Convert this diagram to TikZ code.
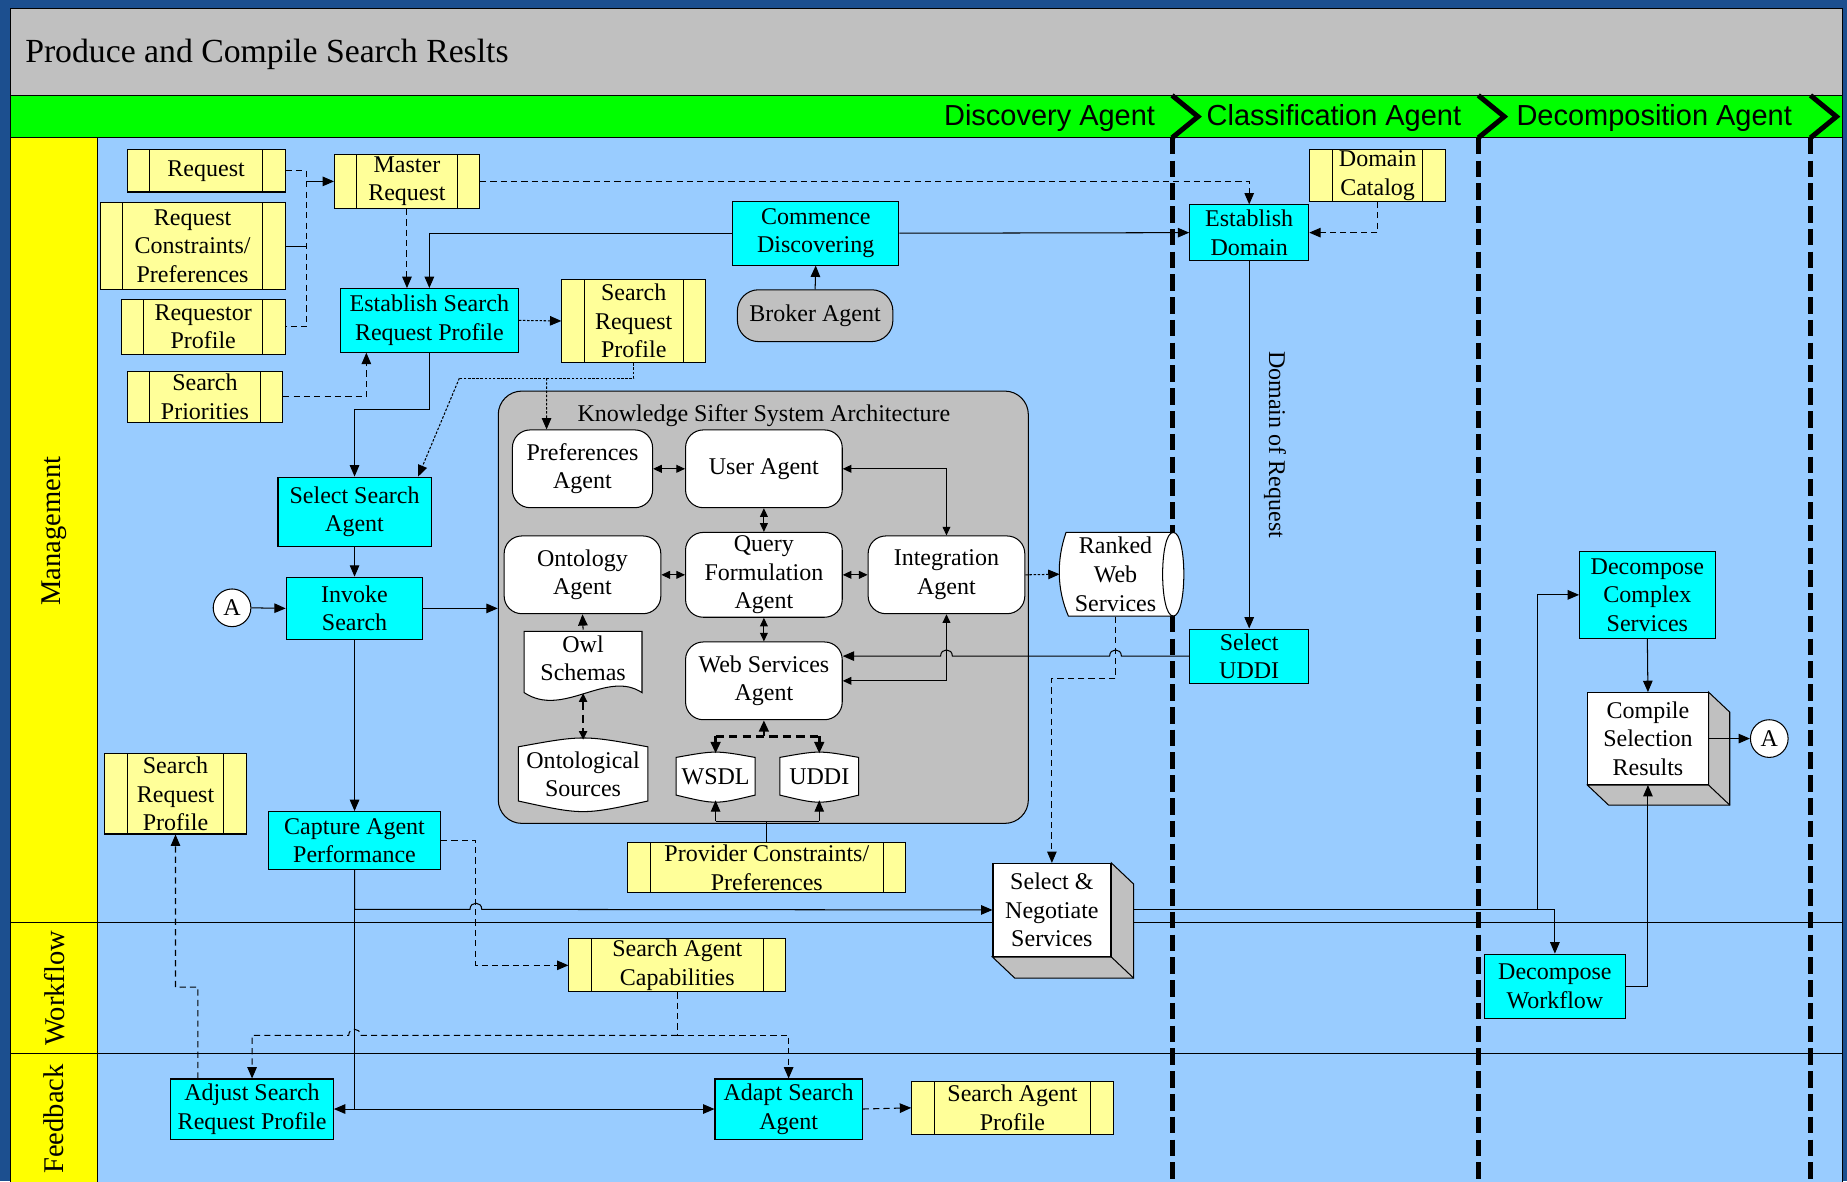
\documentclass[tikz,border=0pt]{standalone}
\usepackage{fontspec}
\setmainfont{Liberation Serif}
\setsansfont{Liberation Sans}
\usetikzlibrary{arrows.meta,calc}

\definecolor{frameblue}{HTML}{1C4F8F}
\definecolor{titlegray}{HTML}{C0C0C0}
\definecolor{hdrgreen}{HTML}{00FF00}
\definecolor{laneblue}{HTML}{99CCFF}
\definecolor{laneyel}{HTML}{FFFF00}
\definecolor{taskcyan}{HTML}{00FFFF}
\definecolor{datayel}{HTML}{FFFF99}

\newcommand\boxfont{\fontsize{11.6}{13.8}\selectfont}

\tikzset{
  wh/.style 2 args={minimum width=#1*0.02cm,minimum height=#2*0.02cm},
  txt/.style={inner sep=0pt,align=center,font=\boxfont},
  task/.style={txt,draw,fill=taskcyan},
  agent/.style={txt,draw,fill=white,rounded corners=0.3cm},
  datbox/.style={txt,draw,fill=datayel,
    path picture={
      \draw ([xshift=0.38cm]path picture bounding box.north west) -- ([xshift=0.38cm]path picture bounding box.south west);
      \draw ([xshift=-0.38cm]path picture bounding box.north east) -- ([xshift=-0.38cm]path picture bounding box.south east);}},
  conn/.style={txt,circle,draw,fill=white,minimum size=0.64cm},
  arr/.style={-{Triangle[length=5.5pt,width=4.6pt]}},
  darr/.style={{Triangle[length=4.2pt,width=3.8pt]}-{Triangle[length=4.2pt,width=3.8pt]}},
  dsh/.style={dash pattern=on 3pt off 2pt},
  fine/.style={dash pattern=on 1.2pt off 0.8pt},
  tdsh/.style={line width=1.3pt,dash pattern=on 4pt off 2.5pt},
  phase/.style={line width=2.4pt,dash pattern=on 8pt off 3pt},
  chev/.style={line width=2.4pt},
}

\begin{document}
\begin{tikzpicture}[x=0.02cm,y=-0.02cm,line width=0.5pt]
\useasboundingbox (0,0) rectangle (1568,1003);
% frame and lanes
\fill[frameblue] (0,0) rectangle (1568,1003);
\fill[laneblue] (9,7) rectangle (1564,1010);
\fill[titlegray] (9,7) rectangle (1564,81);
\draw[fill=hdrgreen] (9,81) rectangle (1564,117);
\draw[fill=laneyel] (9,117) rectangle (83,1010);
\draw (9,783) -- (1564,783);
\draw (9,894) -- (1564,894);
\draw (9,7) rectangle (1564,1010);
\node[anchor=west,inner sep=0pt,font=\fontsize{16.3}{19}\selectfont] (ttl) at (21,46.5) {Produce and Compile Search Reslts};
\node[rotate=90,inner sep=0pt,font=\fontsize{13.8}{16}\selectfont] (lnm) at (46,451) {Management};
\node[rotate=90,inner sep=0pt,font=\fontsize{13.8}{16}\selectfont] (lnw) at (46,839) {Workflow};
\node[rotate=90,inner sep=0pt,font=\fontsize{13.8}{16}\selectfont] (lnf) at (46,950) {Feedback};

% phases
\node[anchor=east,inner sep=0pt,font=\sffamily\fontsize{14}{16}\selectfont] (hdisc) at (981,100.5) {Discovery Agent};
\node[anchor=west,inner sep=0pt,font=\sffamily\fontsize{14}{16}\selectfont] (hclass) at (1024,100.5) {Classification Agent};
\node[anchor=west,inner sep=0pt,font=\sffamily\fontsize{14}{16}\selectfont] (hdec) at (1287,100.5) {Decomposition Agent};
\draw[chev] (995,81) -- (1017,99) -- (995,117);
\draw[chev] (1255,81) -- (1277,99) -- (1255,117);
\draw[chev] (1537,81) -- (1559,99) -- (1537,117);
\draw[phase] (995,117) -- (995,1003);
\draw[phase] (1255,117) -- (1255,1003);
\draw[phase] (1537,117) -- (1537,1003);

% request side
\node[datbox,wh={134}{36}] (req) at (175,145) {Request};
\node[datbox,wh={123}{46}] (mr) at (345.5,154) {Master\\Request};
\node[datbox,wh={157}{74}] (rc) at (163.5,209) {Request\\Constraints/\\Preferences};
\node[datbox,wh={139}{47}] (rp) at (172.5,277.5) {Requestor\\Profile};
\node[datbox,wh={132}{44}] (sp) at (174,337) {Search\\Priorities};
\node[task,wh={151}{54}] (esrp) at (364.5,272) {Establish Search\\Request Profile};
\node[datbox,wh={122}{71}] (srp) at (538,272.5) {Search\\Request\\Profile};
\node[task,wh={141}{54}] (cd) at (692.5,198) {Commence\\Discovering};
\node[txt,draw,fill=titlegray,rounded corners=0.36cm,wh={132}{44}] (ba) at (692,268) {Broker Agent};
\node[task,wh={101}{47}] (ed) at (1060.5,197.5) {Establish\\Domain};
\node[datbox,wh={115}{44}] (dc) at (1169.5,149) {Domain\\Catalog};
\node[task,wh={101}{46}] (su) at (1060.5,557) {Select\\UDDI};
\node[task,wh={130}{59}] (ssa) at (301,434.5) {Select Search\\Agent};
\node[task,wh={116}{53}] (is) at (301,516.5) {Invoke\\Search};
\node[conn] (a1) at (197,516) {A};

% knowledge sifter
\node[draw,fill=titlegray,rounded corners=0.4cm,wh={450}{367}] (ks) at (648,515.5) {};
\node[txt] (kst) at (648.5,353) {Knowledge Sifter System Architecture};
\node[agent,wh={119}{66}] (pa) at (494.5,398) {Preferences\\Agent};
\node[agent,wh={133}{66}] (ua) at (648.5,398) {User Agent};
\node[agent,wh={133}{66}] (oa) at (494.5,488) {Ontology\\Agent};
\node[agent,wh={133}{72}] (qfa) at (648.5,488) {Query\\Formulation\\Agent};
\node[agent,wh={133}{66}] (ia) at (803.5,488) {Integration\\Agent};
\node[agent,wh={133}{66}] (wsa) at (648.5,578) {Web Services\\Agent};
\draw[fill=white] (445,536) -- (545,536) -- (545,588) .. controls (515,568) and (478,610) .. (445,588) -- cycle;
\node[txt,wh={100}{48}] (owl) at (495,559) {Owl\\Schemas};
\draw[fill=white] (440,634) .. controls (495,624) .. (550,634) -- (550,680) .. controls (495,692) .. (440,680) -- cycle;
\node[txt,wh={110}{58}] (os) at (495,657.5) {Ontological\\Sources};
\draw[fill=white] (574,643) .. controls (607.5,637) .. (641,643) -- (641,675) .. controls (607.5,683) .. (574,675) -- cycle;
\node[txt,wh={67}{39}] (wsdl) at (607.5,659.5) {WSDL};
\draw[fill=white] (662,643) .. controls (695.5,637) .. (729,643) -- (729,675) .. controls (695.5,683) .. (662,675) -- cycle;
\node[txt,wh={67}{39}] (uddi) at (695.5,659.5) {UDDI};

% ranked web services
\draw[fill=white] (905,452) -- (996,452) .. controls (1008,452) and (1008,523) .. (996,523) -- (907,523) .. controls (897,500) and (897,475) .. (905,452) -- cycle;
\draw (996,452) .. controls (984,452) and (984,523) .. (996,523);
\node[txt,wh={94}{71}] (rws) at (947,487.5) {Ranked\\Web\\Services};

\node[datbox,wh={236}{43}] (pc) at (651,736.5) {Provider Constraints/\\Preferences};
\node[datbox,wh={120}{68}] (srp2) at (149,674) {Search\\Request\\Profile};
\node[task,wh={146}{49}] (cap) at (301,713.5) {Capture Agent\\Performance};

% select and negotiate
\node[txt,draw,fill=white,wh={100}{79}] (sn) at (893,772.5) {Select \&\\Negotiate\\Services};
\draw[fill=titlegray] (sn.north east) -- ++(19,18) -- ($(sn.south east)+(19,18)$) -- ($(sn.south west)+(19,18)$) -- (sn.south west) -- (sn.south east) -- cycle;
\draw (sn.south east) -- ++(19,18);

% decomposition
\node[task,wh={115}{74}] (dcs) at (1398.5,505) {Decompose\\Complex\\Services};
\node[txt,draw,fill=white,wh={102}{78}] (csr) at (1399,627) {Compile\\Selection\\Results};
\draw[fill=titlegray] (csr.north east) -- ++(18,17) -- ($(csr.south east)+(18,17)$) -- ($(csr.south west)+(18,17)$) -- (csr.south west) -- (csr.south east) -- cycle;
\draw (csr.south east) -- ++(18,17);
\node[conn] (a2) at (1502,627) {A};
\node[task,wh={120}{55}] (dw) at (1320,837.5) {Decompose\\Workflow};

% workflow and feedback
\node[datbox,wh={184}{45}] (sac) at (575,819.5) {Search Agent\\Capabilities};
\node[task,wh={138}{51}] (asrp) at (214,941.5) {Adjust Search\\Request Profile};
\node[task,wh={125}{51}] (adsa) at (669.5,941.5) {Adapt Search\\Agent};
\node[datbox,wh={171}{45}] (sap) at (859.5,940.5) {Search Agent\\Profile};

% connectors
\coordinate (mrg) at (260,154);
\draw[dsh] (req.east) -| (mrg |- rp.east) -- (rp.east);
\draw (rc.east) -- (mrg |- rc.east);
\draw[arr] (mrg) -- (mr.west);
\draw[dsh,arr] (mr.south) -- (esrp.north -| mr.south);
\draw[dsh,arr] (mr.east) -| (ed.north);
\draw[arr] (cd.west) -| (esrp.north);
\draw[arr] (cd.east) -- (ed.west);
\draw[arr] (ba.north) -- (cd.south);
\draw[dsh,arr] (dc.south) |- (ed.east);
\draw[fine,arr] (esrp.east) -- (srp.west);
\draw[dsh,arr] (sp.east) -| ([xshift=-1.07cm]esrp.south);
\draw[arr] (esrp.south) -- (364.5,348) -| (ssa.north);
\draw[fine] (srp.south) -- (538,321) -- (390,321);
\draw[fine,arr] (390,321) -- ([xshift=1.08cm]ssa.north);
\draw[fine,arr] (464,321) -- ([xshift=-0.61cm]pa.north);
\draw[arr] (ssa.south) -- (is.north);
\draw[arr] (a1.east) -- (is.west);
\draw[arr] (is.east) -- (is.east -| ks.west);
\draw[arr] (is.south) -- (cap.north);
\draw[arr] (ed.south) -- node[midway,xshift=0.44cm,rotate=-90,font=\boxfont] (dor) {Domain of Request} (su.north);

\draw[darr] (pa.east) -- (ua.west);
\draw[darr] (oa.east) -- (qfa.west);
\draw[darr] (qfa.east) -- (ia.west);
\draw[darr] (ua.south) -- (qfa.north);
\draw[darr] (qfa.south) -- (wsa.north);
\draw[darr] (ua.east) -| (ia.north);
\draw[darr] (ia.south) |- (wsa.east);
\draw[arr] (owl.north) -- (oa.south);
\draw[tdsh,darr] ([yshift=-0.1cm]owl.south) -- (os.north);
\coordinate (wsj) at (648.5,625);
\draw[tdsh,arr] (wsj) -- (wsa.south);
\draw[tdsh] (wsdl.north |- wsj) -- (uddi.north |- wsj);
\draw[tdsh,arr] (wsdl.north |- wsj) -- (wsdl.north);
\draw[tdsh,arr] (uddi.north |- wsj) -- (uddi.north);
\coordinate (pcj) at (651,697);
\draw (pc.north) -- (pcj);
\draw (wsdl.south |- pcj) -- (uddi.south |- pcj);
\draw[arr] (wsdl.south |- pcj) -- (wsdl.south);
\draw[arr] (uddi.south |- pcj) -- (uddi.south);
\draw[fine,arr] (ia.east) -- (rws.west);
\draw[arr] (su.west) -- (952,557) .. controls (952,550) and (942,550) .. (942,557) -- (808.5,557) .. controls (808.5,550) and (798.5,550) .. (798.5,557) -- (wsa.east |- su.west);
\draw[dsh,arr] (rws.south) -- (947,576) -| (sn.north);

\coordinate (capj) at (301,772);
\draw[arr] (cap.south) -- (capj) -- (399,772) .. controls (399,765) and (409,765) .. (409,772) -- (sn.west);
\draw[dsh,arr] (cap.east) -- (404,713.5) |- (sac.west);
\coordinate (fb) at (301,941.5);
\draw (capj) -- (fb);
\draw[arr] (fb) -- (asrp.east);
\draw[arr] (fb) -- (adsa.west);
\coordinate (sacj) at (575,879);
\draw[dsh] (sac.south) -- (sacj);
\draw[dsh,arr] (sacj) -- (306,879) .. controls (306,872) and (296,872) .. (296,879) -| (asrp.north);
\draw[dsh,arr] (sacj) -| (adsa.north);
\draw[dsh,arr] ([xshift=-0.92cm]asrp.north) -- (168,838) -| (srp2.south);
\draw[dsh,arr] (adsa.east) -- (sap.west);

\coordinate (split) at (1305,772);
\draw[arr] ([xshift=0.38cm]sn.east) -| (dw.north);
\draw[arr] (split) |- (dcs.west);
\draw[arr] (dcs.south) -- (csr.north);
\draw[arr] (dw.east) -| (csr.south);
\draw[arr] (csr.east) -- (a2.west);
\end{tikzpicture}
\end{document}
